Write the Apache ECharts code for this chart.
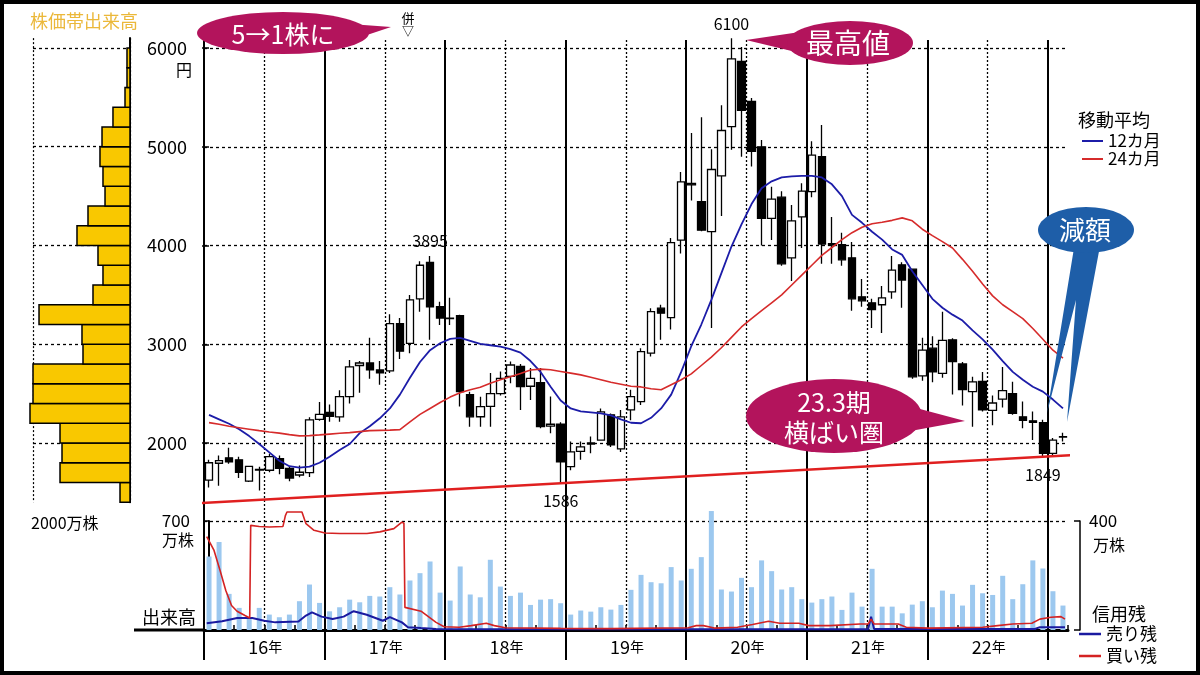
<!DOCTYPE html>
<html><head><meta charset="utf-8">
<script src="https://cdn.jsdelivr.net/npm/echarts@6.0.0/dist/echarts.min.js"></script>
<style>html,body{margin:0;padding:0;background:#fff}#c{width:1200px;height:675px}</style>
</head><body><div id="c"></div>
<script>
// ---------------- data ----------------
const months = [
 '2016/01','2016/02','2016/03','2016/04','2016/05','2016/06','2016/07','2016/08','2016/09','2016/10','2016/11','2016/12',
 '2017/01','2017/02','2017/03','2017/04','2017/05','2017/06','2017/07','2017/08','2017/09','2017/10','2017/11','2017/12',
 '2018/01','2018/02','2018/03','2018/04','2018/05','2018/06','2018/07','2018/08','2018/09','2018/10','2018/11','2018/12',
 '2019/01','2019/02','2019/03','2019/04','2019/05','2019/06','2019/07','2019/08','2019/09','2019/10','2019/11','2019/12',
 '2020/01','2020/02','2020/03','2020/04','2020/05','2020/06','2020/07','2020/08','2020/09','2020/10','2020/11','2020/12',
 '2021/01','2021/02','2021/03','2021/04','2021/05','2021/06','2021/07','2021/08','2021/09','2021/10','2021/11','2021/12',
 '2022/01','2022/02','2022/03','2022/04','2022/05','2022/06','2022/07','2022/08','2022/09','2022/10','2022/11','2022/12',
 '2023/01','2023/02'
];
const yearLabels = ['16','17','18','19','20','21','22'];

// monthly candles: [open, close, low, high] (円)
const ohlc = [
 [1625,1800,1550,1830],[1795,1822,1566,1874],[1850,1810,1790,1953],[1830,1704,1645,1862],[1613,1763,1605,1770],[1725,1732,1520,1760],
 [1724,1862,1704,1890],[1842,1743,1684,1874],[1743,1645,1613,1763],[1676,1704,1653,1771],[1700,2235,1655,2260],[2240,2290,2225,2415],
 [2310,2270,2215,2390],[2265,2470,2215,2535],[2470,2770,2400,2840],[2785,2810,2510,2830],[2810,2740,2650,3065],[2740,2710,2590,2830],
 [2730,3210,2710,3305],[3210,2930,2850,3265],[3010,3450,2910,3500],[3460,3800,3330,3840],[3830,3380,3045,3895],[3380,3265,3195,3430],
 [3265,3260,3195,3470],[3290,2520,2370,3300],[2490,2265,2165,2520],[2266,2368,2165,2469],[2370,2500,2165,2710],[2500,2655,2480,2725],
 [2675,2790,2605,2825],[2775,2570,2335,2800],[2575,2655,2435,2760],[2610,2165,2150,2760],[2170,2190,2100,2470],[2190,1810,1586,2210],
 [1760,1910,1725,2015],[1915,1960,1830,2015],[1990,2000,1895,2065],[2030,2315,2025,2350],[2285,1980,1960,2300],[1940,2265,1910,2335],
 [2335,2470,2230,2540],[2420,2925,2385,2960],[2910,3330,2875,3365],[3365,3315,3045,3400],[3270,4030,3150,4075],[4055,4645,3920,4745],
 [4630,4615,4455,5140],[4445,4155,4145,5300],[4140,4770,3165,4975],[4705,5165,4300,5420],[5205,5890,4970,6100],[5865,5370,4900,6010],
 [5460,4955,4800,5495],[5000,4275,4000,5070],[4275,4470,4055,4595],[4490,3815,3795,4550],[3875,4250,3640,4410],[4290,4550,3975,4630],
 [4545,4915,4490,5055],[4900,4015,3815,5220],[4020,4005,3815,4290],[4010,3855,3795,4130],[3875,3460,3340,4035],[3480,3440,3380,3660],
 [3420,3350,3165,3460],[3400,3470,3115,3590],[3530,3750,3460,3895],[3805,3650,3370,3830],[3760,2670,2650,3760],[2680,2940,2630,3065],
 [2960,2720,2615,3080],[2705,3040,2660,3330],[3045,2825,2490,3060],[2800,2540,2380,2820],[2520,2620,2165,2670],[2625,2335,2320,2720],
 [2330,2405,2180,2480],[2445,2530,2360,2770],[2500,2300,2285,2620],[2265,2230,2150,2420],[2225,2210,2030,2320],[2205,1895,1849,2235],
 [1895,2030,1870,2050],[2060,2065,2015,2105]
];

// 12-month moving average (blue)
const ma12 = [
 2285,2240,2195,2140,2070,1990,1905,1820,1765,1750,
 1760,1800,1860,1930,1990,2100,2170,2250,2350,2490,
 2660,2820,2940,3010,3055,3065,3035,3005,2990,2975,
 2950,2915,2830,2720,2570,2430,2350,2320,2310,2300,
 2280,2240,2205,2200,2255,2350,2490,2720,2980,3200,
 3450,3720,3990,4215,4420,4580,4650,4690,4700,4705,
 4705,4690,4620,4500,4310,4230,4140,4060,3960,3905,
 3740,3600,3460,3370,3300,3240,3140,3050,2945,2830,
 2720,2640,2570,2520,2440,2350
];
// 24-month moving average (red)
const ma24 = [
 2206,2190,2170,2155,2140,2125,2112,2100,2085,2072,
 2075,2082,2090,2098,2105,2115,2125,2128,2130,2135,
 2215,2290,2350,2410,2465,2510,2540,2565,2605,2640,
 2671,2705,2740,2748,2742,2725,2708,2690,2665,2640,
 2615,2595,2575,2568,2550,2540,2590,2640,2700,2785,
 2870,2965,3070,3175,3260,3340,3420,3500,3600,3700,
 3800,3900,3980,4060,4130,4185,4220,4235,4255,4280,
 4250,4165,4100,4040,3975,3860,3740,3610,3490,3400,
 3330,3260,3160,3050,2940,2860
];
// support line end points: [month index, price]
const trendLine = [[-0.9,1392],[86.2,1878]];

// monthly volume (万株, left scale 700)
const volume = [
 472,565,232,142,80,142,99,82,99,185,
 292,174,120,146,195,178,219,215,275,228,
 318,365,440,240,189,408,228,210,451,279,
 219,240,161,195,198,172,99,125,118,146,
 131,161,258,354,307,300,404,318,393,468,
 764,260,247,335,275,447,378,260,275,198,
 176,198,215,129,240,150,393,150,150,107,
 163,185,146,253,232,157,290,236,225,348,
 198,294,447,395,249,157
];
// margin balances (万株, right scale 400): [month index, value]
const buyRemain = [
 [-0.23,343],[0.5,292],[1.1,218],[1.67,145],[2.24,90],[2.79,69],[3.58,53],[4.05,44],[4.15,384],[5,380],[6,378],[7.36,380],
 [7.6,420],[7.76,433],[9.25,433],[9.65,390],[10.45,366],[11.54,356],[13,354],[15.72,354],[17,360],[18.4,372],[19.2,396],
 [19.4,392],[19.5,83],[21.1,69],[22.6,28],[23.4,12],[24.9,10],[26.1,16],[27.6,25],[28.4,16],[29.5,8],[35,6],[40,5],
 [47.7,8],[48.5,16],[49.2,16],[50.3,7],[52.6,10],[54.1,20],[55.7,32],[56.8,25],[58.7,25],[59.7,16],[61.8,16],[64.8,22],
 [65.6,22],[65.9,40],[66.2,22],[68.6,22],[69.4,10],[71.6,7],[77,10],[78.5,16],[80,22],[81.9,25],[82.7,40],[83.8,47],
 [84.8,49],[85.2,40]
];
const sellRemain = [
 [-0.23,25],[1.3,32],[2.8,44],[4.3,44],[5.5,34],[6.6,28],[8.9,31],[9.65,53],[10.25,65],[11.2,49],[12.3,40],[13.4,49],
 [14.4,69],[15.7,56],[17.3,34],[18,47],[19.2,28],[19.8,10],[21.1,7],[22.6,4],[40,3],[65.6,3],[65.9,49],[66.2,4],
 [82.2,4],[82.7,10],[85.2,10]
];
// price-band volume (株価帯出来高): band lower bound (円) and volume (万株)
const histBand = 200;
const histLow = [1400,1600,1800,2000,2200,2400,2600,2800,3000,3200,3400,3600,3800,4000,4200,4400,4600,4800,5000,5200,5400,5600,5800];
const histVol = [206,1443,1402,1443,2062,2000,2000,969,990,1876,763,557,660,1093,866,515,557,619,577,351,103,62,62];
// price labels: [month index, price, position]
const priceNotes = [[52,6100,'top'],[22,3895,'top'],[35,1586,'bottom'],[83,1849,'bottom']];

// ---------------- chart ----------------
const FONT = '"Noto Sans CJK JP", "Noto Sans", sans-serif';
const CW = 864 / months.length;
const MAGENTA = '#B3145C', BLUE = '#1E5EA8';

const histLineColors = [];
for (let v = 1400; v <= 6100; v += 200) histLineColors.push((v % 1000 === 0 && v >= 2000 && v <= 6000) ? '#000' : 'rgba(0,0,0,0)');
histLineColors.push('rgba(0,0,0,0)');

function txt(s, x, y, size, color, align, extra) {
  return Object.assign({type:'text', x:x, y:y, z:50, silent:true,
    style:{text:s, fill:color||'#000', font:size+'px '+FONT, textAlign:align||'center', textVerticalAlign:'middle', align:align||'center', verticalAlign:'middle'}}, extra||{});
}
function ellipse(cx, cy, rx, ry, color) {
  return {type:'circle', x:cx, y:cy, scaleX:rx/ry, scaleY:1, shape:{cx:0, cy:0, r:ry}, style:{fill:color}, z:40, silent:true};
}
function poly(pts, color) {
  return {type:'polygon', shape:{points:pts}, style:{fill:color}, z:40, silent:true};
}

const option = {
  animation:false,
  backgroundColor:'#fff',
  textStyle:{fontFamily:FONT},
  grid:[
    {left:204, width:864, top:48.05, height:394.95},
    {left:204, width:864, top:521, height:109},
    {left:33, width:97, top:38.1, height:464.15},
    {left:204, width:CW*84, top:40, height:620},
    {left:204, width:CW*78, top:40, height:590}
  ],
  xAxis:[
    {type:'category', gridIndex:0, data:months, axisLine:{show:false}, axisTick:{show:false}, axisLabel:{show:false}, splitLine:{show:false}},
    {type:'value', gridIndex:0, min:-0.5, max:months.length-0.5, show:false},
    {type:'category', gridIndex:1, data:months, position:'bottom',
      axisLine:{onZero:false, lineStyle:{color:'#000', width:3}},
      axisTick:{show:true, inside:true, length:5, interval:(i)=>i%3===0, lineStyle:{color:'#000', width:1.5}},
      axisLabel:{interval:(i)=>i%12===6, margin:8, padding:[0,8,0,0],
        formatter:(v,i)=>'{n|'+yearLabels[Math.floor(i/12)]+'}{y|年}',
        rich:{n:{fontSize:18, color:'#000', fontFamily:FONT}, y:{fontSize:14, color:'#000', fontFamily:FONT}}},
      splitLine:{show:false}},
    {type:'value', gridIndex:1, min:-0.5, max:months.length-0.5, show:false},
    {type:'value', gridIndex:2, inverse:true, min:0, max:2000, interval:2000, axisLine:{show:false}, axisTick:{show:false}, axisLabel:{show:false},
      splitLine:{show:true, lineStyle:{color:'#000', type:[2,2], width:1.2}}},
    {type:'category', gridIndex:3, data:months.slice(0,84), axisLine:{show:false}, axisTick:{show:false}, axisLabel:{show:false},
      splitLine:{show:true, interval:(i)=>i%12===0, lineStyle:{color:'#000', width:2}}},
    {type:'category', gridIndex:4, data:months.slice(0,78), axisLine:{show:false}, axisTick:{show:false}, axisLabel:{show:false},
      splitLine:{show:true, interval:(i)=>i%12===6, lineStyle:{color:'#000', width:1.3, type:[2,2]}}}
  ],
  yAxis:[
    {type:'value', gridIndex:0, min:2000, max:6000, interval:1000, axisLine:{show:false},
      axisTick:{show:true, length:7, lineStyle:{color:'#000', width:1.5}},
      axisLabel:{color:'#000', fontSize:18, margin:17, fontFamily:FONT, formatter:(v)=>String(v)},
      splitLine:{show:true, lineStyle:{color:'#000', type:[3,3], width:1.3}}},
    {type:'value', gridIndex:1, min:0, max:700, interval:700, axisLine:{show:true, lineStyle:{color:'#000', width:2}},
      axisTick:{show:true, length:6, lineStyle:{color:'#000', width:1.5}},
      axisLabel:{color:'#000', fontSize:17, margin:14, fontFamily:FONT, formatter:(v)=>v===700?'700':''},
      splitLine:{show:true, lineStyle:{color:['rgba(0,0,0,0)','#000'], type:[3,3], width:1.3}}},
    {type:'value', gridIndex:1, position:'right', offset:12, min:0, max:400, interval:400,
      axisLine:{show:true, lineStyle:{color:'#000', width:1.5}},
      axisTick:{show:true, inside:true, length:6, lineStyle:{color:'#000', width:1.5}},
      axisLabel:{color:'#000', fontSize:17, margin:9, fontFamily:FONT, formatter:(v)=>v===400?'400':''},
      splitLine:{show:false}},
    {type:'value', gridIndex:2, position:'right', min:1400, max:6100, interval:200,
      axisLine:{show:true, lineStyle:{color:'#000', width:2}}, axisTick:{show:false}, axisLabel:{show:false},
      splitLine:{show:true, lineStyle:{color:histLineColors, type:[3,3], width:1.3}}},
    {type:'value', gridIndex:3, show:false, min:0, max:1},
    {type:'value', gridIndex:4, show:false, min:0, max:1}
  ],
  legend:[
    {data:['12カ月','24カ月'], orient:'vertical', left:1077, top:127, icon:'rect', itemWidth:21, itemHeight:2, itemGap:0,
      selectedMode:false, textStyle:{fontSize:17, color:'#000', fontFamily:FONT, lineHeight:18}},
    {data:['売り残','買い残'], orient:'vertical', left:1074, top:620, icon:'rect', itemWidth:22, itemHeight:2.5, itemGap:4,
      selectedMode:false, textStyle:{fontSize:17, color:'#000', fontFamily:FONT, lineHeight:18}}
  ],
  series:[
    {type:'custom', name:'株価帯出来高', xAxisIndex:4, yAxisIndex:3, clip:false, z:3,
      data:histVol.map((v,i)=>[histLow[i], v]), encode:{x:1, y:0},
      renderItem:(params, api)=>{
        const lo = api.value(0), v = api.value(1);
        const a = api.coord([v, lo + histBand]);
        const b = api.coord([0, lo]);
        return {type:'rect', shape:{x:Math.min(a[0],b[0]), y:Math.min(a[1],b[1]), width:Math.abs(b[0]-a[0]), height:Math.abs(b[1]-a[1])},
          style:{fill:'#F9C800', stroke:'#000', lineWidth:1.5}};
      }},
    {type:'candlestick', name:'株価', xAxisIndex:0, yAxisIndex:0, data:ohlc, clip:false, barWidth:8, z:3,
      itemStyle:{color:'#fff', color0:'#000', borderColor:'#000', borderColor0:'#000', borderWidth:1.3}},
    {type:'scatter', name:'notes', xAxisIndex:1, yAxisIndex:0, clip:false, symbolSize:1, z:6,
      itemStyle:{color:'rgba(0,0,0,0)', opacity:1},
      label:{show:true, color:'#000', opacity:1, fontSize:16, fontFamily:FONT, formatter:(p)=>String(p.value[1])},
      data:priceNotes.map(n=>({value:[n[0], n[1]], label:{position:n[2], distance:n[2]==='top'?6:9}}))},
    {type:'line', name:'12カ月', xAxisIndex:0, yAxisIndex:0, data:ma12, symbol:'none', clip:false, z:4,
      lineStyle:{color:'#1c1ca8', width:1.8}, itemStyle:{color:'#1c1ca8'}},
    {type:'line', name:'24カ月', xAxisIndex:0, yAxisIndex:0, data:ma24, symbol:'none', clip:false, z:4,
      lineStyle:{color:'#d62b2b', width:1.6}, itemStyle:{color:'#d62b2b'}},
    {type:'line', name:'trend', xAxisIndex:1, yAxisIndex:0, data:trendLine, symbol:'none', clip:false, z:4,
      lineStyle:{color:'#e02020', width:2.5}},
    {type:'bar', name:'出来高', xAxisIndex:2, yAxisIndex:1, data:volume, barWidth:5, clip:false, z:2,
      itemStyle:{color:'#9cc8ef'}},
    {type:'line', name:'売り残', xAxisIndex:3, yAxisIndex:2, data:sellRemain, symbol:'none', clip:false, z:4,
      lineStyle:{color:'#1a1aa0', width:2}, itemStyle:{color:'#1a1aa0'}},
    {type:'line', name:'買い残', xAxisIndex:3, yAxisIndex:2, data:buyRemain, symbol:'none', clip:false, z:4,
      lineStyle:{color:'#d42222', width:1.6}, itemStyle:{color:'#d42222'}}
  ],
  graphic:[
    {type:'rect', shape:{x:2, y:2, width:1196, height:671}, style:{fill:null, stroke:'#000', lineWidth:4}, z:100, silent:true},
    {type:'line', shape:{x1:134, y1:630, x2:204, y2:630}, style:{stroke:'#000', lineWidth:3}, z:10, silent:true},
    txt('株価帯出来高', 30, 21, 18, '#EBB83A', 'left'),
    txt('2000万株', 31, 523, 16, '#000', 'left'),
    txt('円', 184, 70, 16, '#000', 'center'),
    txt('併', 408, 18, 13, '#000', 'center'),
    txt('▽', 408, 31, 12, '#000', 'center'),
    txt('出来高', 196, 617, 18, '#000', 'right'),
    txt('万株', 194, 540, 16, '#000', 'right'),
    txt('万株', 1093, 545, 16, '#000', 'left'),
    txt('移動平均', 1078, 120, 18, '#000', 'left'),
    txt('信用残', 1092, 614, 18, '#000', 'left'),
    // bubbles
    poly([[350,24],[391,27],[352,40]], MAGENTA),
    ellipse(283, 33, 86, 21, MAGENTA),
    txt('5→1株に', 283, 34, 25, '#fff', 'center', {z:45}),
    poly([[800,32],[746,40],[800,53]], MAGENTA),
    ellipse(850, 43, 63, 22, MAGENTA),
    txt('最高値', 848, 43, 28, '#fff', 'center', {z:45}),
    poly([[1074,248],[1047,413],[1076,300],[1067,422],[1100,246]], BLUE),
    ellipse(1086, 230, 48, 23, BLUE),
    txt('減額', 1085, 230, 26, '#fff', 'center', {z:45}),
    poly([[905,405],[965,421],[905,432]], MAGENTA),
    ellipse(834, 416, 88, 37, MAGENTA),
    txt('23.3期\n横ばい圏', 834, 417, 25, '#fff', 'center', {z:45, style:{text:'23.3期\n横ばい圏', fill:'#fff', font:'25px '+FONT, textAlign:'center', textVerticalAlign:'middle', align:'center', verticalAlign:'middle', lineHeight:30}})
  ]
};
const chart = echarts.init(document.getElementById('c'));
chart.setOption(option);
</script>
</body></html>
